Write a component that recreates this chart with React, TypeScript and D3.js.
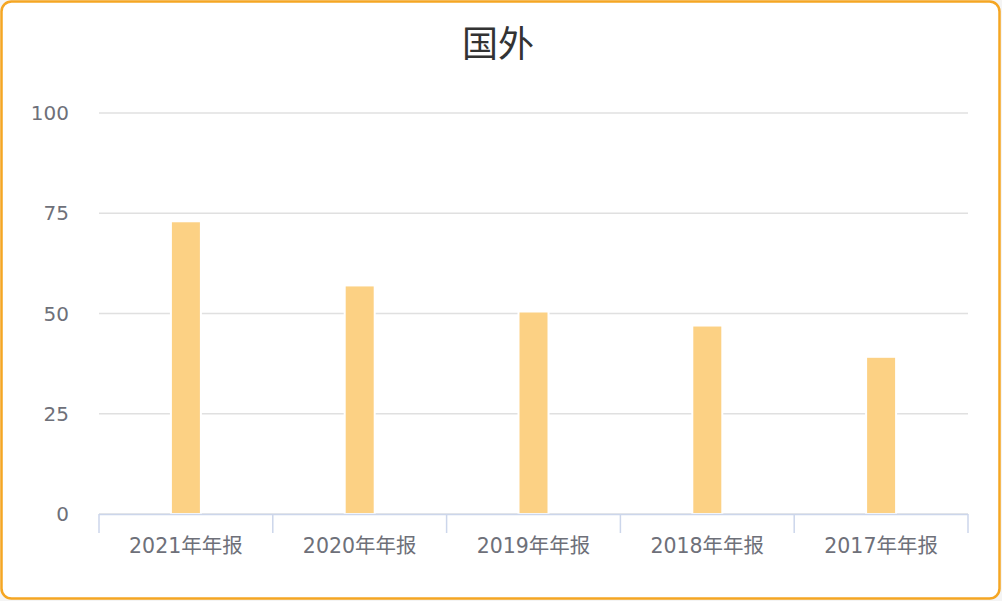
import * as React from 'react'
import * as d3 from 'd3'

const WIDTH = 1002
const HEIGHT = 601
const PLOT_LEFT = 99
const PLOT_RIGHT = 968
const PLOT_TOP = 113
const PLOT_BOTTOM = 514
const BAR_WIDTH = 30

const TITLE = '国外'
const categories = ['2021年年报', '2020年年报', '2019年年报', '2018年年报', '2017年年报']
const values = [73, 57, 50.5, 47, 39.2]
const yTicks = [0, 25, 50, 75, 100]

const FONT = '"Noto Sans CJK SC", "Noto Sans", sans-serif'
const LABEL_FONT = '"DejaVu Sans", "Noto Sans CJK SC", sans-serif'

export default function App() {
  const x = d3
    .scaleBand<string>()
    .domain(categories)
    .range([PLOT_LEFT, PLOT_RIGHT])
  const y = d3.scaleLinear().domain([0, 100]).range([PLOT_BOTTOM, PLOT_TOP])
  // tick boundaries between the bands (both ends included)
  const boundaries = categories.map(c => x(c) as number).concat([PLOT_RIGHT])

  return (
    <svg
      width={WIDTH}
      height={HEIGHT}
      style={{ position: 'absolute', left: 0, top: 0, fontFamily: FONT }}
    >
      <rect x={0} y={0} width={WIDTH} height={HEIGHT} fill="#f4f4f4" />
      <rect
        x={1.5}
        y={1.5}
        width={WIDTH - 4}
        height={HEIGHT - 4}
        rx={10}
        fill="#ffffff"
        stroke="#f5a623"
        strokeWidth={2.5}
      />
      <text
        x={WIDTH / 2 - 3}
        y={57}
        textAnchor="middle"
        fontSize={36}
        fill="#333333"
      >
        {TITLE}
      </text>
      <g fontFamily={LABEL_FONT}>
        {yTicks.map(t => (
          <g key={t}>
            <line
              x1={PLOT_LEFT}
              x2={PLOT_RIGHT}
              y1={y(t)}
              y2={y(t)}
              stroke="#e0e0e0"
              strokeWidth={1.5}
            />
            <text
              x={69}
              y={y(t)}
              dy="0.35em"
              textAnchor="end"
              fontSize={20}
              fill="#6e7079"
            >
              {t}
            </text>
          </g>
        ))}
      </g>
      <g>
        {categories.map((c, i) => (
          <rect
            key={c}
            x={(x(c) as number) + (x.bandwidth() - BAR_WIDTH) / 2}
            y={y(values[i])}
            width={BAR_WIDTH}
            height={y(0) - y(values[i])}
            fill="#fcd184"
            stroke="#ffffff"
            strokeWidth={2}
          />
        ))}
      </g>
      <g fontFamily={LABEL_FONT}>
        <line
          x1={PLOT_LEFT}
          x2={PLOT_RIGHT}
          y1={PLOT_BOTTOM + 0.5}
          y2={PLOT_BOTTOM + 0.5}
          stroke="#ccd6eb"
          strokeWidth={1.5}
        />
        {boundaries.map((b, i) => (
          <line
            key={i}
            x1={b}
            x2={b}
            y1={PLOT_BOTTOM}
            y2={PLOT_BOTTOM + 19}
            stroke="#ccd6eb"
            strokeWidth={1.5}
          />
        ))}
        {categories.map(c => (
          <text
            key={c}
            x={(x(c) as number) + x.bandwidth() / 2}
            y={553}
            textAnchor="middle"
            fontSize={20.5}
            fill="#6e7079"
          >
            {c}
          </text>
        ))}
      </g>
    </svg>
  )
}
